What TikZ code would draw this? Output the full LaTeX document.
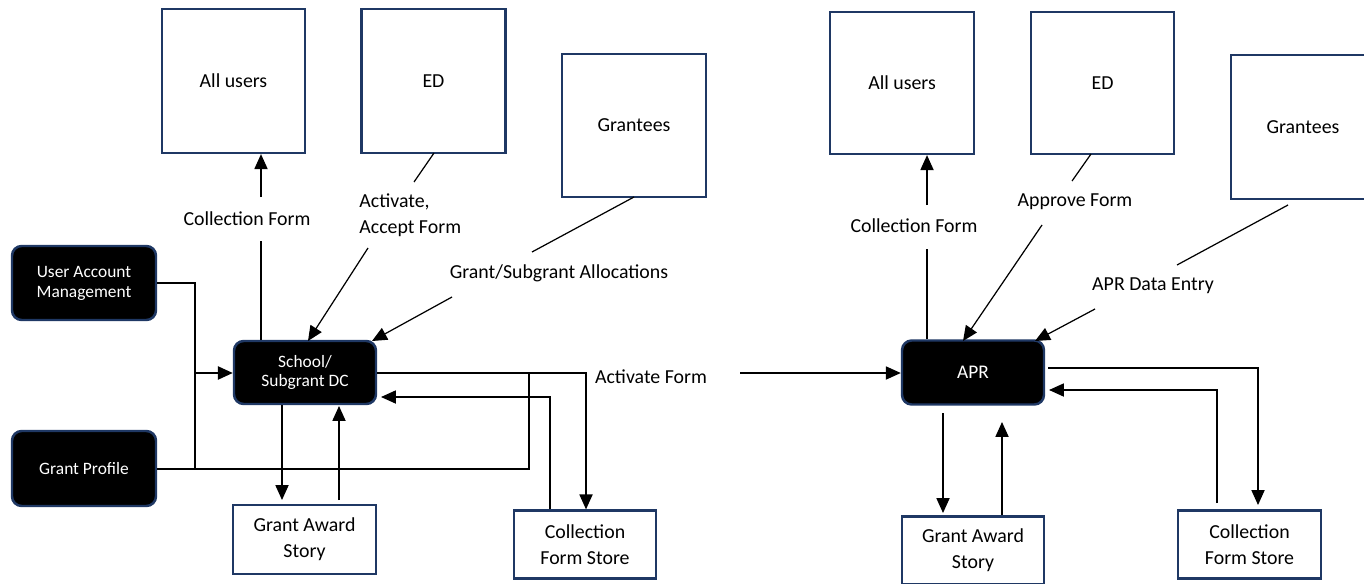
\documentclass[tikz,border=0pt]{standalone}
\usepackage{fontspec}
\setmainfont{Carlito}
\usetikzlibrary{arrows.meta}
\definecolor{navy}{HTML}{1F3864}
\begin{document}
\begin{tikzpicture}[x=0.02cm,y=-0.02cm,
 wh/.style 2 args={minimum width=#1*0.02cm, minimum height=#2*0.02cm},
 ent/.style={draw=navy,line width=1.3pt,fill=white,inner sep=0pt,font=\fontsize{11.3}{14.7}\selectfont,align=center},
 proc/.style={draw=navy,line width=1.4pt,fill=black,text=white,rounded corners=5.5pt,inner sep=0pt,font=\fontsize{9.9}{11.3}\selectfont,align=center},
 lbl/.style={inner sep=0pt,font=\fontsize{11.3}{14.7}\selectfont,align=left},
 conn/.style={line width=0.7pt},
 arr/.style={conn,-{Triangle[length=8.5pt,width=7.5pt]}}]
\useasboundingbox (0,0) rectangle (1364,584);

% ---------- left diagram ----------
\node[ent,wh={143}{144}] (au1) at (233.5,81) {All users};
\node[ent,wh={144}{144}] (ed1) at (433.5,81) {ED};
\node[ent,wh={144}{143}] (gr1) at (634,125.5) {Grantees};
\node[proc,wh={144}{74}] (uam) at (84,283) {User Account\\Management};
\node[proc,wh={144}{75}] (gp) at (84,468.5) {Grant Profile};
\node[proc,wh={142}{63}] (sch) at (305,372.5) {School/\\Subgrant DC};
\node[ent,wh={143}{69}] (gas1) at (304.5,539.5) {Grant Award\\Story};
\node[ent,wh={142}{68}] (cfs1) at (585,544.5) {Collection\\Form Store};

\node[lbl] (lcf1) at (247,219) {Collection Form};
\node[lbl,anchor=west] (lact) at (359,215) {Activate,\\Accept Form};
\node[lbl] (lgsa) at (559,273) {Grant/Subgrant Allocations};
\node[lbl] (laf) at (651,377) {Activate Form};

% collection form up to all users
\draw[conn] (sch.north -| 261,0) -- (261,241);
\draw[arr] (261,197) -- (au1.south -| 261,0);
% ED -> school
\draw[conn] (434,153) -- (414,182);
\draw[arr] (368,248) -- (308,341);
% Grantees -> school
\draw[conn] (634,197) -- (532,252);
\draw[arr] (452,297) -- (372,341);
% UAM / Grant profile -> school
\draw[conn] (uam.east |- 0,283) -- (195,283) -- (195,469);
\draw[arr,line width=1.1pt] (195,373) -- (sch.west |- 0,373);
\draw[conn] (gp.east |- 0,469) -- (529,469) -- (529,373);
% school -> collection form store
\draw[arr] (sch.east |- 0,373) -- (586,373) -- (cfs1.north -| 586,0);
% collection form store -> school
\draw[arr] (cfs1.north -| 550,0) -- (550,397) -- (381,397);
% school <-> grant award story
\draw[arr] (sch.south -| 282,0) -- (282,500);
\draw[arr] (339,500) -- (339,406);

% ---------- right diagram ----------
\node[ent,wh={144}{142}] (au2) at (902,83) {All users};
\node[ent,wh={143}{142}] (ed2) at (1102.5,83) {ED};
\node[ent,wh={144}{144}] (gr2) at (1303,127) {Grantees};
\node[proc,wh={142}{64},font=\fontsize{11}{13}\selectfont] (apr) at (973,372.5) {APR};
\node[ent,wh={142}{68}] (gas2) at (973,550.5) {Grant Award\\Story};
\node[ent,wh={143}{68}] (cfs2) at (1249.5,544.5) {Collection\\Form Store};

\node[lbl] (lcf2) at (914,226) {Collection Form};
\node[lbl] (lapf) at (1075,202) {Approve Form};
\node[lbl] (lapr) at (1153,286) {APR Data Entry};

% activate form -> APR
\draw[arr] (740,373) -- (apr.west |- 0,373);
% collection form up to all users
\draw[conn] (apr.north -| 927,0) -- (927,249);
\draw[arr] (927,205) -- (au2.south -| 927,0);
% ED -> APR
\draw[conn] (1091,154) -- (1072,181);
\draw[arr] (1042,225) -- (963,341);
% Grantees -> APR
\draw[conn] (1288,205) -- (1177,265);
\draw[arr] (1095,309) -- (1035,341);
% APR -> collection form store
\draw[arr] (1048,368) -- (1258,368) -- (1258,505);
% collection form store -> APR
\draw[arr] (1217,503) -- (1217,390) -- (1049,390);
% APR <-> grant award story
\draw[arr] (943,413) -- (943,513);
\draw[arr] (1002,515) -- (1002,422);
\end{tikzpicture}
\end{document}
